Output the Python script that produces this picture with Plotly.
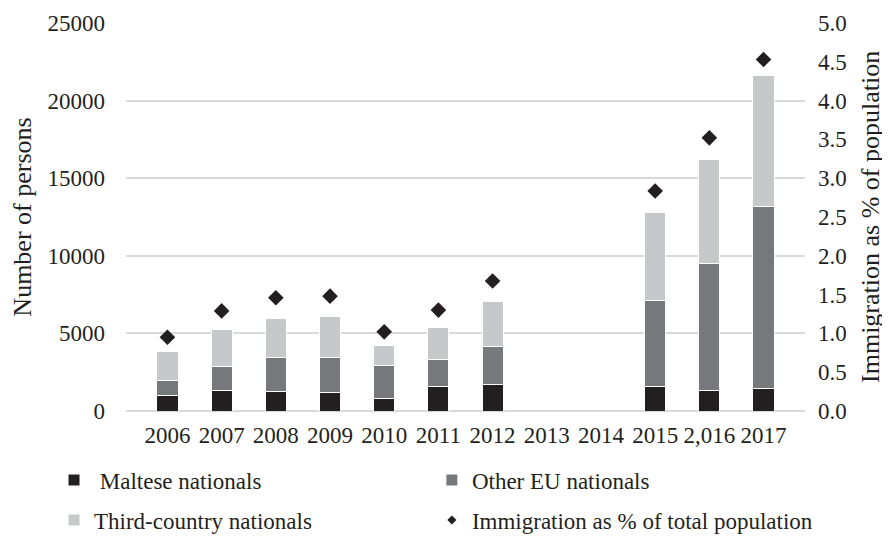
import plotly.graph_objects as go

years = ["2006", "2007", "2008", "2009", "2010", "2011", "2012", "2013", "2014", "2015", "2,016", "2017"]
maltese = [990, 1330, 1260, 1200, 790, 1590, 1700, None, None, 1610, 1350, 1420]
other_eu = [970, 1550, 2170, 2220, 2170, 1760, 2450, None, None, 5520, 8160, 11770]
third_country = [1890, 2360, 2560, 2680, 1240, 2060, 2900, None, None, 5650, 6700, 8420]
pct_population = [0.95, 1.29, 1.46, 1.48, 1.02, 1.30, 1.675, None, None, 2.835, 3.52, 4.53]

FONT = "Liberation Serif"
TXT = "#231f20"

fig = go.Figure()
fig.add_trace(go.Bar(x=years, y=maltese, name=" Maltese nationals", marker=dict(color="#231f20", line=dict(color="white", width=1)), legend="legend"))
fig.add_trace(go.Bar(x=years, y=other_eu, name="Other EU nationals", marker=dict(color="#77787b", line=dict(color="white", width=1)), legend="legend2"))
fig.add_trace(go.Bar(x=years, y=third_country, name="Third-country nationals", marker=dict(color="#c7c8ca", line=dict(color="white", width=1)), legend="legend3"))
fig.add_trace(go.Scatter(x=years, y=pct_population, name="Immigration as % of total population", mode="markers",
                         marker=dict(symbol="diamond", size=12, color="#231f20"), yaxis="y2", showlegend=False))
fig.add_trace(go.Scatter(x=[None], y=[None], name="Immigration as % of total population", mode="markers",
                         marker=dict(symbol="diamond", size=7, color="#231f20"), yaxis="y2", legend="legend4"))

def leg(x, y):
    return dict(orientation="h", x=x, xanchor="left", y=y, yanchor="middle",
                font=dict(size=23), bgcolor="rgba(0,0,0,0)")

fig.update_layout(
    width=890, height=539,
    margin=dict(l=118, r=93, t=15, b=136, autoexpand=False),
    paper_bgcolor="white", plot_bgcolor="white",
    barmode="stack", bargap=0.61,
    font=dict(family=FONT, size=23, color=TXT),
    xaxis=dict(type="category", showgrid=False, ticks="", ticklabelstandoff=8,
               tickfont=dict(size=23)),
    yaxis=dict(range=[0, 25000], dtick=5000, tickformat="d", showgrid=True, gridcolor="#d9d9d9", gridwidth=1.5,
               zeroline=True, zerolinecolor="#d9d9d9", zerolinewidth=1.5, ticks="", ticklabelstandoff=20,
               title=dict(text="Number of persons", font=dict(size=26), standoff=12), automargin=False),
    yaxis2=dict(range=[0, 5], dtick=0.5, tickformat=".1f", overlaying="y", side="right", showgrid=False,
                zeroline=False, ticks="", ticklabelstandoff=12, automargin=False),
    annotations=[dict(text="Immigration as % of population", xref="paper", yref="paper", x=1.0957, y=0.5,
                      xanchor="center", yanchor="middle", textangle=-90, showarrow=False,
                      font=dict(size=26, family=FONT, color=TXT))],
    legend=leg(-0.106, -0.178),
    legend2=leg(0.4505, -0.178),
    legend3=leg(-0.106, -0.281),
    legend4=leg(0.4505, -0.281),
    showlegend=True,
)

fig.write_html("out.html")
